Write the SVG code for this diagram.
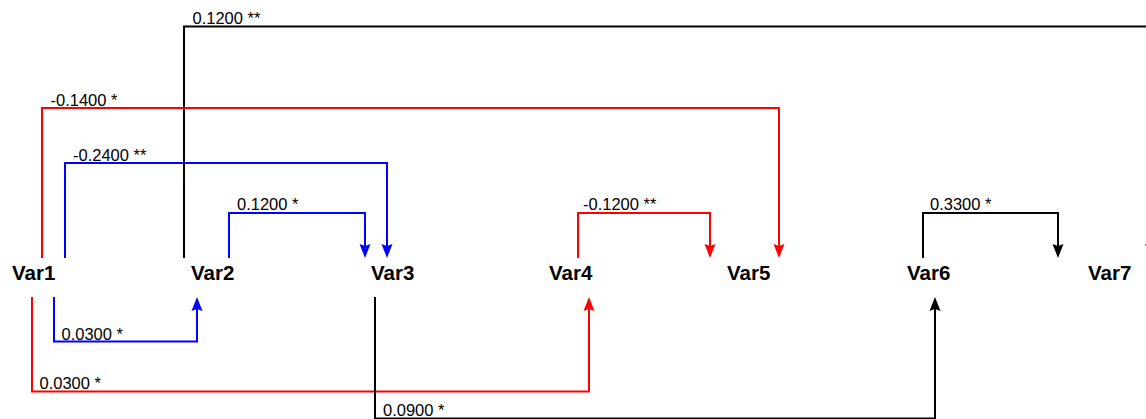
<svg xmlns="http://www.w3.org/2000/svg" width="1146" height="419" viewBox="0 0 1146 419">
<style>
.node{font-family:"Liberation Sans",Arial,sans-serif;font-weight:bold;font-size:20.5px;fill:#000}
.lbl{font-family:"Liberation Sans",Arial,sans-serif;font-size:16.5px;fill:#000}
.c{fill:none;stroke-width:2;stroke-linejoin:miter}
.k{stroke:#000}.r{stroke:#ff0000}.b{stroke:#0000ff}
</style>
<defs>
<marker id="ak" markerUnits="userSpaceOnUse" markerWidth="16" markerHeight="14" viewBox="0 -7 15 14" refX="8" refY="0" orient="auto"><path d="M0,-5.5 L14,0 L0,5.5 L2,0 Z" fill="#000"/></marker>
<marker id="ar" markerUnits="userSpaceOnUse" markerWidth="16" markerHeight="14" viewBox="0 -7 15 14" refX="8" refY="0" orient="auto"><path d="M0,-5.5 L14,0 L0,5.5 L2,0 Z" fill="#ff0000"/></marker>
<marker id="ab" markerUnits="userSpaceOnUse" markerWidth="16" markerHeight="14" viewBox="0 -7 15 14" refX="8" refY="0" orient="auto"><path d="M0,-5.5 L14,0 L0,5.5 L2,0 Z" fill="#0000ff"/></marker>
</defs>
<rect width="1146" height="419" fill="#fff"/>
<g id="connectors">
<path class="c k" d="M184,258 V26.5 H1150.5 V252" marker-end="url(#ak)"/>
<text class="lbl" x="192.5" y="24">0.1200 **</text>
<path class="c r" d="M42,258 V108 H779 V252" marker-end="url(#ar)"/>
<text class="lbl" x="50.5" y="105.5">-0.1400 *</text>
<path class="c b" d="M65,258 V163 H387 V252" marker-end="url(#ab)"/>
<text class="lbl" x="73" y="160.5">-0.2400 **</text>
<path class="c b" d="M229,258 V213 H365 V252" marker-end="url(#ab)"/>
<text class="lbl" x="237" y="209.5">0.1200 *</text>
<path class="c r" d="M578,258 V213 H710 V252" marker-end="url(#ar)"/>
<text class="lbl" x="583" y="209.5">-0.1200 **</text>
<path class="c k" d="M923,258 V213 H1058 V252" marker-end="url(#ak)"/>
<text class="lbl" x="930" y="209.5">0.3300 *</text>
<path class="c b" d="M54,297 V341.5 H197 V303" marker-end="url(#ab)"/>
<text class="lbl" x="61.5" y="339.5">0.0300 *</text>
<path class="c r" d="M32,297 V391.5 H589 V303" marker-end="url(#ar)"/>
<text class="lbl" x="39.5" y="389">0.0300 *</text>
<path class="c k" d="M375,297 V418.5 H935 V303" marker-end="url(#ak)"/>
<text class="lbl" x="383" y="416">0.0900 *</text>
</g>
<g id="var1"><text class="node" x="12" y="280">Var1</text></g>
<g id="var2"><text class="node" x="191" y="280">Var2</text></g>
<g id="var3"><text class="node" x="371" y="280">Var3</text></g>
<g id="var4"><text class="node" x="549" y="280">Var4</text></g>
<g id="var5"><text class="node" x="727" y="280">Var5</text></g>
<g id="var6"><text class="node" x="907" y="280">Var6</text></g>
<g id="var7"><text class="node" x="1088" y="280">Var7</text></g>
</svg>
